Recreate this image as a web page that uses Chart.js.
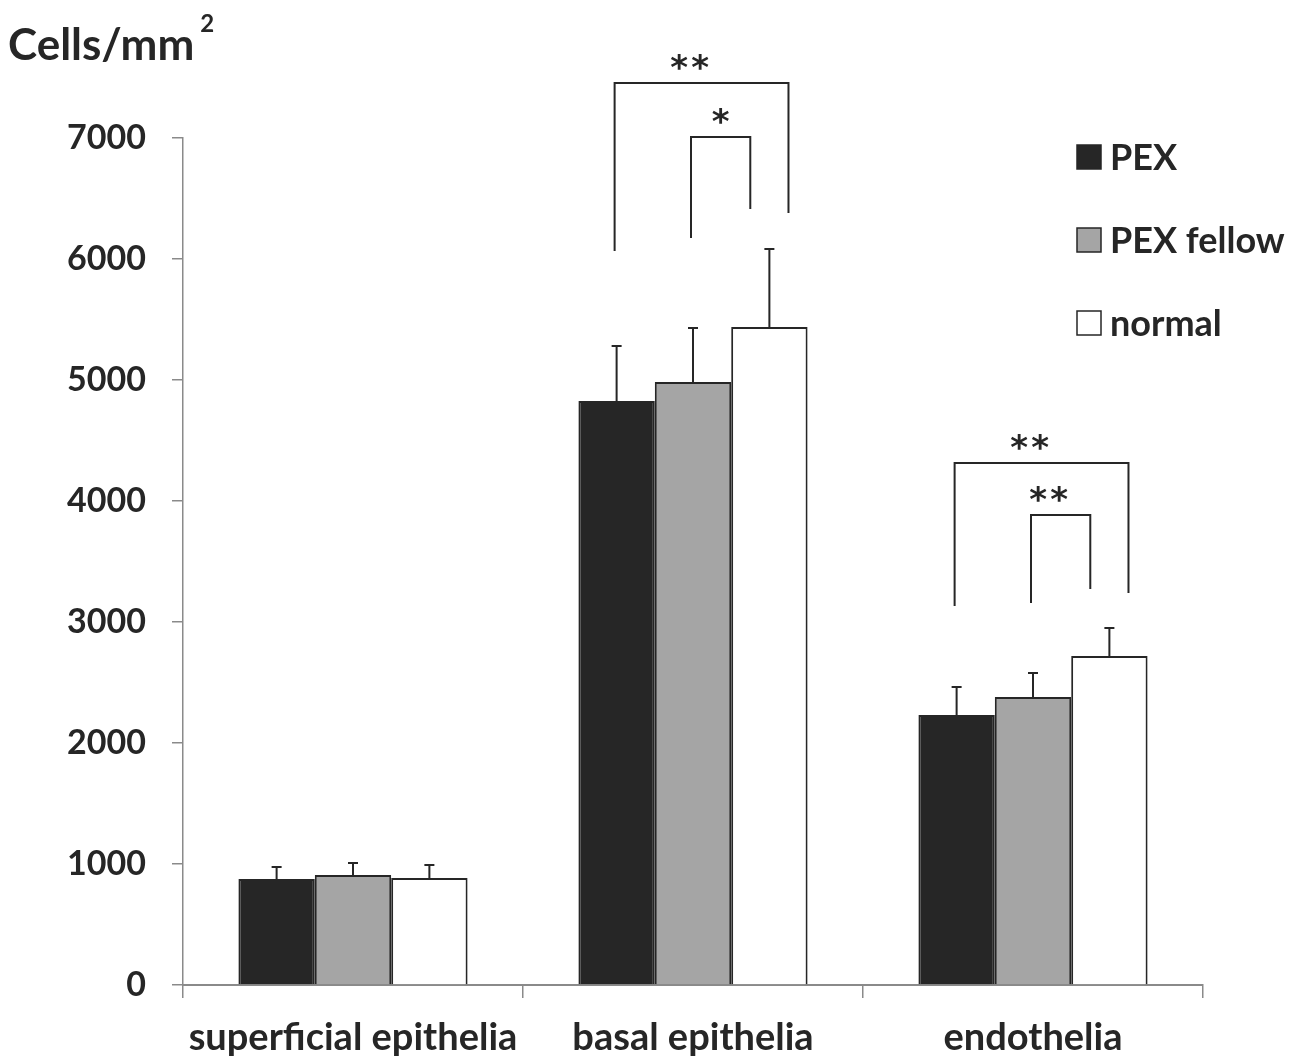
<!DOCTYPE html>
<html>
<head>
<meta charset="utf-8">
<script src="https://cdn.jsdelivr.net/npm/chart.js@4.4.1/dist/chart.umd.min.js"></script>
<style>
  html, body { margin: 0; padding: 0; background: #fff; }
  #wrap { width: 1301px; height: 1062px; position: relative; }
</style>
</head>
<body>
<div id="wrap"><canvas id="graph"></canvas></div>
<script>
/*
* data
*/
const categories = ['superficial epithelia', 'basal epithelia', 'endothelia'];
const seriesNames = ['PEX', 'PEX fellow', 'normal'];
const pexValues = [876, 4826, 2231];
const pexErrors = [99, 455, 232];
const fellowValues = [909, 4983, 2380];
const fellowErrors = [99, 447, 199];
const normalValues = [884, 5438, 2719];
const normalErrors = [108, 645, 231];
const yTicks = [0, 1000, 2000, 3000, 4000, 5000, 6000, 7000];

// significance brackets (category index, from/to series, heights in cells/mm2)
const bracketCats = [1, 1, 2, 2];
const bracketFrom = [0, 1, 0, 1];
const bracketTo = [2, 2, 2, 2];
const bracketTop = [7455, 7008, 4314, 3884];
const bracketLeftEnd = [6066, 6174, 3132, 3157];
const bracketRightEnd = [6380, 6413, 3240, 3273];
const bracketLabels = ['**', '*', '**', '**'];

const FONT = 'Lato, "Open Sans", sans-serif';
const INK = '#262626';

const fills = ['#262626', '#a5a5a5', '#ffffff'];
const errs = [pexErrors, fellowErrors, normalErrors];

// error bars, brackets, legend and y title
const extras = {
  id: 'extras',
  afterDatasetsDraw(chart) {
    const ctx = chart.ctx;
    const y = chart.scales.y;
    ctx.save();
    ctx.strokeStyle = INK;
    ctx.lineWidth = 2;
    // error bars (upper half only)
    chart.data.datasets.forEach((ds, i) => {
      const meta = chart.getDatasetMeta(i);
      meta.data.forEach((bar, j) => {
        const top = y.getPixelForValue(ds.data[j] + errs[i][j]);
        ctx.beginPath();
        ctx.moveTo(bar.x, bar.y);
        ctx.lineTo(bar.x, top);
        ctx.moveTo(bar.x - 5, top);
        ctx.lineTo(bar.x + 5, top);
        ctx.stroke();
      });
    });

    // brackets
    ctx.font = 'bold 34px "DejaVu Sans", sans-serif';
    const m = ctx.measureText('*');
    const shift = (m.actualBoundingBoxAscent - m.actualBoundingBoxDescent) / 2;
    bracketCats.forEach((c, k) => {
      const a = chart.getDatasetMeta(bracketFrom[k]).data[c];
      const b = chart.getDatasetMeta(bracketTo[k]).data[c];
      const x1 = a.x - 2;
      const x2 = b.x + (bracketFrom[k] === 0 ? 0.25 : -0.25) * b.width;
      const yt = y.getPixelForValue(bracketTop[k]);
      ctx.beginPath();
      ctx.moveTo(x1, y.getPixelForValue(bracketLeftEnd[k]));
      ctx.lineTo(x1, yt);
      ctx.lineTo(x2, yt);
      ctx.lineTo(x2, y.getPixelForValue(bracketRightEnd[k]));
      ctx.stroke();
      ctx.fillStyle = INK;
      ctx.textAlign = 'center';
      ctx.textBaseline = 'alphabetic';
      const n = bracketLabels[k].length;
      const cx = (x1 + x2) / 2 - (n > 1 ? 12 : 0);
      for (let s = 0; s < n; s++) {
        ctx.fillText('*', cx + (s - (n - 1) / 2) * 21, yt - 21 + shift);
      }
    });

    // legend
    ctx.font = 'bold 36px ' + FONT;
    ctx.textAlign = 'left';
    ctx.textBaseline = 'middle';
    seriesNames.forEach((name, i) => {
      const cy = 157 + i * 83;
      ctx.fillStyle = fills[i];
      ctx.fillRect(1077, cy - 12, 24, 24);
      ctx.lineWidth = 1.5;
      ctx.strokeStyle = INK;
      ctx.strokeRect(1077, cy - 12, 24, 24);
      ctx.fillStyle = INK;
      ctx.fillText(name, 1110, cy + 1);
    });

    // y title
    ctx.font = 'bold 44px ' + FONT;
    ctx.textBaseline = 'alphabetic';
    ctx.fillText('Cells/mm', 8, 60);
    const w = ctx.measureText('Cells/mm').width;
    ctx.font = 'bold 24px ' + FONT;
    ctx.fillText('2', 8 + w + 6, 32);
    ctx.restore();
  }
};

const ctx = document.getElementById('graph').getContext('2d');
const chart = new Chart(ctx, {
  type: 'bar',
  data: {
    labels: categories,
    datasets: [
      { label: seriesNames[0], data: pexValues, backgroundColor: fills[0] },
      { label: seriesNames[1], data: fellowValues, backgroundColor: fills[1] },
      { label: seriesNames[2], data: normalValues, backgroundColor: fills[2] }
    ].map(d => Object.assign(d, {
      borderColor: INK,
      borderWidth: 2,
      borderSkipped: 'bottom',
      categoryPercentage: 0.674,
      barPercentage: 1
    }))
  },
  options: {
    responsive: true,
    maintainAspectRatio: false,
    animation: false,
    layout: { padding: { top: 138, right: 98, left: 0, bottom: 0 } },
    plugins: { legend: { display: false }, tooltip: { enabled: false } },
    scales: {
      x: {
        afterFit: s => { s.height = 77; },
        grid: { drawOnChartArea: false, tickLength: 13, color: '#8a8a8a', lineWidth: 1.5 },
        border: { color: '#8a8a8a', width: 2 },
        ticks: { color: INK, font: { family: FONT, size: 38, weight: 'bold' }, padding: 17 }
      },
      y: {
        min: 0,
        max: 7000,
        afterFit: s => { s.width = 183; },
        afterBuildTicks: s => { s.ticks = yTicks.map(v => ({ value: v })); },
        grid: { drawOnChartArea: false, tickLength: 11, color: '#8a8a8a', lineWidth: 1.5 },
        border: { color: '#8a8a8a', width: 1.5 },
        ticks: {
          color: INK,
          font: { family: FONT, size: 34, weight: 'bold' },
          padding: 26,
          callback: v => String(v)
        }
      }
    }
  },
  plugins: [extras]
});
</script>
</body>
</html>
